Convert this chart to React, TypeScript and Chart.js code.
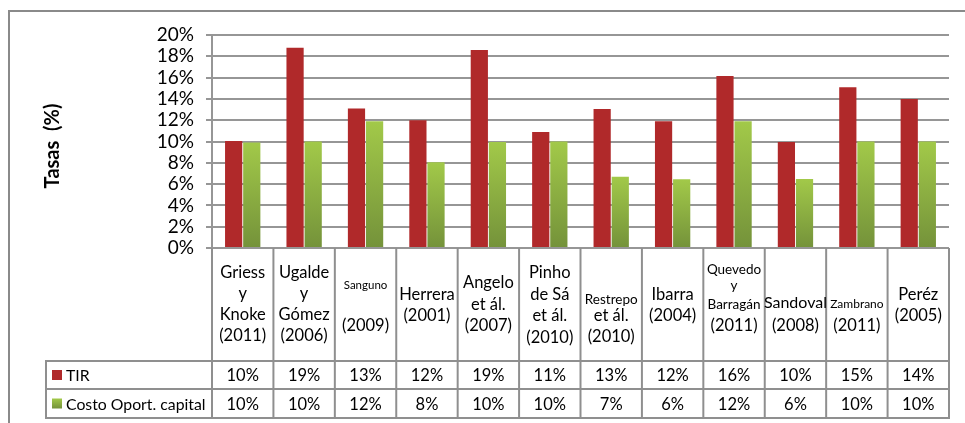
import React, { useEffect, useRef } from 'react';
import { Chart, registerables } from 'chart.js';

Chart.register(...registerables);

// ---------- data ----------
const CATEGORIES = [
  'Griess\ny\nKnoke\n(2011)',
  'Ugalde\ny\nGómez\n(2006)',
  'Sanguno\n\n(2009)',
  'Herrera\n(2001)',
  'Angelo\net ál.\n(2007)',
  'Pinho\nde Sá\net ál.\n(2010)',
  'Restrepo\net ál.\n(2010)',
  'Ibarra\n(2004)',
  'Quevedo\ny\nBarragán\n(2011)',
  'Sandoval\n(2008)',
  'Zambrano\n(2011)',
  'Peréz\n(2005)',
];
const SERIES_NAMES = ['TIR', 'Costo Oport. capital'];
const TIR = [10.05, 18.8, 13.1, 12.0, 18.6, 10.9, 13.05, 11.9, 16.15, 9.95, 15.1, 14.0];
const COSTO = [9.9, 10.0, 11.9, 8.05, 9.95, 10.0, 6.7, 6.45, 11.9, 6.48, 10.0, 10.0];
const Y_MIN = 0;
const Y_MAX = 20;
const Y_STEP = 2;
const Y_TITLE = 'Tasas  (%)';

// ---------- styles ----------
const FONT = 'Lato';
const N = 16.5; // normal table font size
const LEGEND_SIZE = 15.8;
const LABEL_LAYOUT: { y: number[]; s: number[] }[] = [
  { y: [25, 46, 67, 88], s: [N, N, N, N] },
  { y: [25, 46, 67, 88], s: [N, N, N, N] },
  { y: [37, 57, 78], s: [11.5, N, N] },
  { y: [47, 68], s: [N, N] },
  { y: [35, 57, 78], s: [N, N, N] },
  { y: [25, 47, 68, 90], s: [N, N, N, N] },
  { y: [52, 68, 89], s: [13.5, N, N] },
  { y: [47, 68], s: [N, N] },
  { y: [22, 38, 57, 78], s: [13.5, 13.5, 13.5, N] },
  { y: [55, 78], s: [16, N] },
  { y: [56, 78], s: [12, N] },
  { y: [47, 68], s: [N, N] },
];
const RED = '#B0292A';
const GREEN_TOP = '#A2C949';
const GREEN_BOTTOM = '#74923A';
const GRID = '#969696';
const TABLE_LINE = '#8f8f8f';

function greenGradient(ctx: CanvasRenderingContext2D, top: number, bottom: number) {
  const g = ctx.createLinearGradient(0, top, 0, bottom);
  g.addColorStop(0, GREEN_TOP);
  g.addColorStop(1, GREEN_BOTTOM);
  return g;
}

const decorPlugin = {
  id: 'decor',
  beforeDraw(chart: any) {
    const { ctx } = chart;
    ctx.save();
    ctx.strokeStyle = '#8a8a8a';
    ctx.lineWidth = 2;
    ctx.beginPath();
    ctx.moveTo(9, chart.height);
    ctx.lineTo(9, 11);
    ctx.lineTo(chart.width, 11);
    ctx.stroke();
    ctx.restore();
  },
  afterDraw(chart: any) {
    const { ctx, chartArea } = chart;
    const xs = chart.scales.x;
    const n = CATEGORIES.length;
    const edges: number[] = [];
    for (let i = 0; i <= n; i++) {
      if (i === 0) edges.push(chartArea.left);
      else if (i === n) edges.push(chartArea.right);
      else edges.push((xs.getPixelForValue(i - 1) + xs.getPixelForValue(i)) / 2);
    }
    const top = chartArea.bottom;
    const hdrBottom = top + 113;
    const r1 = hdrBottom + 28;
    const r2 = r1 + 29;
    const legendLeft = 46;
    const right = chartArea.right;

    ctx.save();
    ctx.strokeStyle = TABLE_LINE;
    ctx.lineWidth = 2;
    const line = (x1: number, y1: number, x2: number, y2: number) => {
      ctx.beginPath();
      ctx.moveTo(x1, y1);
      ctx.lineTo(x2, y2);
      ctx.stroke();
    };
    edges.forEach((x) => line(x, top, x, r2 + 1));
    line(legendLeft, hdrBottom, right + 1, hdrBottom);
    line(legendLeft, r1, right + 1, r1);
    line(legendLeft, r2, right + 1, r2);
    line(legendLeft, hdrBottom - 1, legendLeft, r2 + 1);

    // category labels
    ctx.fillStyle = '#000';
    ctx.textAlign = 'center';
    ctx.textBaseline = 'middle';
    CATEGORIES.forEach((label, i) => {
      const lines = label.split('\n');
      const lay = LABEL_LAYOUT[i];
      const cx = xs.getPixelForValue(i);
      lines.forEach((t, j) => {
        if (!t) return;
        ctx.font = `${lay.s[j]}px ${FONT}`;
        ctx.fillText(t, cx, top + lay.y[j]);
      });
    });

    // values
    ctx.font = `${N}px ${FONT}`;
    const rowsY = [(hdrBottom + r1) / 2, (r1 + r2) / 2];
    [TIR, COSTO].forEach((arr, k) => {
      arr.forEach((v, i) => {
        ctx.fillText(Math.round(v) + '%', xs.getPixelForValue(i), rowsY[k] + 1);
      });
    });

    // legend keys
    SERIES_NAMES.forEach((name, k) => {
      const cy = rowsY[k];
      if (k === 0) ctx.fillStyle = RED;
      else ctx.fillStyle = greenGradient(ctx, cy - 5, cy + 5);
      ctx.fillRect(52, cy - 5, 10, 10);
      ctx.fillStyle = '#000';
      ctx.textAlign = 'left';
      ctx.font = `${LEGEND_SIZE}px ${FONT}`;
      ctx.fillText(name, 66, cy + 1);
    });

    // y title
    ctx.save();
    ctx.translate(53, 146);
    ctx.rotate(-Math.PI / 2);
    ctx.textAlign = 'center';
    ctx.textBaseline = 'middle';
    ctx.font = `bold 20px ${FONT}`;
    ctx.fillStyle = '#000';
    ctx.fillText(Y_TITLE, 0, 0);
    ctx.restore();

    ctx.restore();
  },
};

export default function App() {
  const ref = useRef<HTMLCanvasElement | null>(null);
  useEffect(() => {
    document.body.style.margin = '0';
    const canvas = ref.current;
    if (!canvas) return;
    const chart = new Chart(canvas, {
      type: 'bar',
      data: {
        labels: CATEGORIES,
        datasets: [
          {
            label: SERIES_NAMES[0],
            data: TIR,
            backgroundColor: RED,
            categoryPercentage: 0.59,
            barPercentage: 0.95,
          },
          {
            label: SERIES_NAMES[1],
            data: COSTO,
            backgroundColor: (c: any) => {
              if (c.type !== 'data') return GREEN_TOP;
              const y = c.chart.scales.y;
              if (!y) return GREEN_TOP;
              const t = y.getPixelForValue(c.raw);
              const b = y.getPixelForValue(0);
              if (!isFinite(t) || !isFinite(b)) return GREEN_TOP;
              return greenGradient(c.chart.ctx, t, b);
            },
            categoryPercentage: 0.59,
            barPercentage: 0.95,
          },
        ],
      },
      options: {
        animation: false,
        responsive: true,
        maintainAspectRatio: false,
        layout: { padding: { top: 35, right: 16, bottom: 175, left: 0 } },
        plugins: {
          legend: { display: false },
          tooltip: { enabled: false },
          title: { display: false },
        },
        scales: {
          x: { display: false },
          y: {
            min: Y_MIN,
            max: Y_MAX,
            afterFit: (scale: any) => {
              scale.width = 212;
            },
            ticks: {
              stepSize: Y_STEP,
              autoSkip: false,
              padding: 12,
              color: '#000',
              font: { family: FONT, size: 19 },
              callback: (v: any) => v + '%',
            },
            grid: { color: GRID, lineWidth: 2, tickLength: 6, drawTicks: true },
            border: { display: true, color: GRID, width: 2 },
          },
        },
      },
      plugins: [decorPlugin],
    });
    return () => chart.destroy();
  }, []);
  return (
    <div style={{ position: 'absolute', left: 0, top: 0, width: 965, height: 423 }}>
      <canvas ref={ref} />
    </div>
  );
}
